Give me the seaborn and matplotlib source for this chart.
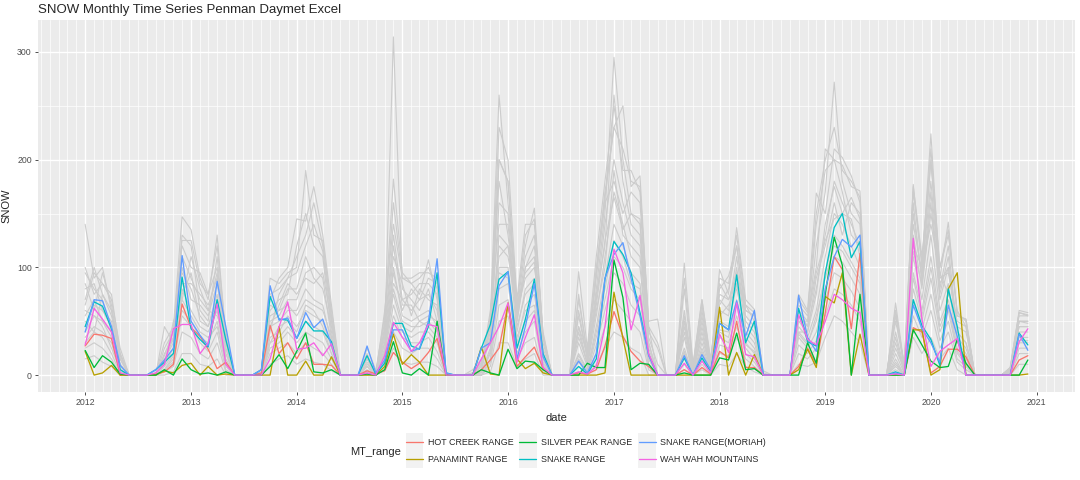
import pandas as pd
import numpy as np
import matplotlib
matplotlib.use('Agg')
import matplotlib.pyplot as plt
import matplotlib.dates as mdates
from matplotlib.ticker import MultipleLocator
from matplotlib.lines import Line2D
from matplotlib.patches import Rectangle
import seaborn as sns

# monthly dates, Jan 2012 .. Dec 2020
dates = pd.date_range('2012-01-01', periods=108, freq='MS')

# highlighted ranges (one row of 12 months per year)
hot_creek = [
    27, 38, 37, 34, 0, 0, 0, 0, 1, 3, 10, 66,
    44, 36, 24, 6, 12, 0, 0, 0, 2, 46, 20, 30,
    15, 30, 10, 10, 9, 0, 0, 0, 4, 1, 4, 21,
    12, 6, 11, 21, 34, 0, 0, 0, 0, 5, 14, 25,
    66, 8, 17, 26, 6, 0, 0, 0, 2, 1, 5, 27,
    59, 36, 22, 13, 8, 0, 0, 0, 5, 0, 7, 1,
    22, 16, 50, 7, 7, 0, 0, 0, 0, 8, 25, 10,
    58, 110, 98, 43, 113, 0, 0, 0, 1, 0, 44, 40,
    2, 8, 24, 24, 17, 0, 0, 0, 0, 0, 14, 18]
panamint = [
    22, 0, 2, 9, 0, 0, 0, 0, 0, 4, 2, 9,
    11, 0, 8, 0, 1, 0, 0, 0, 0, 0, 45, 0,
    0, 13, 0, 0, 17, 0, 0, 0, 0, 0, 8, 38,
    10, 19, 12, 0, 0, 0, 0, 0, 0, 26, 1, 0,
    67, 15, 6, 11, 2, 0, 0, 0, 0, 0, 0, 2,
    77, 34, 0, 0, 0, 0, 0, 0, 0, 0, 0, 0,
    63, 0, 21, 0, 19, 0, 0, 0, 0, 5, 24, 7,
    73, 67, 95, 0, 38, 0, 0, 0, 0, 0, 42, 42,
    0, 5, 80, 95, 0, 0, 0, 0, 0, 0, 0, 1]
silver_peak = [
    23, 7, 18, 12, 1, 0, 0, 0, 0, 5, 0, 15,
    5, 1, 2, 0, 3, 0, 0, 0, 0, 8, 19, 6,
    22, 39, 3, 2, 5, 0, 0, 0, 1, 0, 5, 31,
    2, 0, 6, 0, 50, 0, 0, 0, 0, 5, 2, 0,
    24, 6, 13, 12, 5, 0, 0, 0, 0, 11, 7, 7,
    107, 72, 5, 11, 10, 0, 0, 0, 2, 0, 0, 0,
    16, 14, 39, 5, 6, 0, 0, 0, 0, 0, 30, 11,
    75, 128, 102, 0, 75, 0, 0, 0, 0, 0, 42, 28,
    13, 7, 8, 33, 11, 0, 0, 0, 0, 0, 0, 14]
snake = [
    45, 68, 64, 43, 5, 0, 0, 0, 5, 12, 20, 91,
    43, 33, 26, 70, 33, 0, 0, 0, 5, 73, 52, 51,
    34, 50, 41, 41, 31, 0, 0, 0, 18, 1, 11, 48,
    48, 27, 24, 45, 95, 2, 0, 0, 0, 25, 47, 89,
    96, 25, 52, 89, 20, 0, 0, 0, 8, 1, 15, 89,
    124, 112, 95, 58, 19, 0, 0, 0, 16, 0, 16, 3,
    48, 42, 93, 30, 50, 0, 0, 0, 0, 62, 31, 27,
    95, 137, 150, 109, 124, 0, 0, 0, 3, 0, 70, 46,
    33, 9, 80, 45, 0, 0, 0, 0, 0, 0, 39, 28]
snake_moriah = [
    40, 70, 69, 45, 9, 0, 0, 0, 5, 14, 25, 111,
    50, 37, 27, 87, 45, 0, 0, 0, 5, 83, 51, 53,
    34, 58, 44, 52, 28, 0, 0, 0, 27, 2, 14, 42,
    42, 22, 25, 50, 108, 2, 0, 0, 0, 25, 30, 83,
    96, 15, 45, 85, 17, 0, 0, 0, 13, 2, 20, 90,
    112, 123, 90, 55, 18, 0, 0, 0, 18, 0, 19, 5,
    48, 42, 69, 36, 60, 0, 0, 0, 0, 74, 35, 22,
    80, 110, 126, 119, 130, 0, 0, 0, 2, 0, 65, 43,
    30, 12, 65, 36, 0, 0, 0, 0, 0, 0, 38, 23]
wah_wah = [
    28, 62, 52, 40, 2, 0, 0, 0, 2, 10, 43, 47,
    47, 20, 30, 66, 10, 0, 0, 0, 0, 15, 45, 68,
    24, 25, 30, 18, 29, 0, 0, 0, 2, 0, 18, 49,
    35, 22, 30, 47, 45, 0, 0, 0, 0, 15, 30, 45,
    67, 12, 35, 56, 7, 0, 0, 0, 3, 1, 8, 45,
    117, 95, 42, 74, 20, 0, 0, 0, 11, 0, 13, 2,
    38, 21, 67, 19, 17, 0, 0, 0, 0, 56, 33, 28,
    50, 75, 70, 62, 58, 0, 0, 0, 1, 0, 127, 52,
    8, 22, 28, 34, 0, 0, 0, 0, 0, 0, 31, 43]

ranges = ['HOT CREEK RANGE', 'PANAMINT RANGE', 'SILVER PEAK RANGE',
          'SNAKE RANGE', 'SNAKE RANGE(MORIAH)', 'WAH WAH MOUNTAINS']
colors = ['#F8766D', '#B79F00', '#00BA38', '#00BFC4', '#619CFF', '#F564E3']
highlight = [hot_creek, panamint, silver_peak, snake, snake_moriah, wah_wah]

# all the other sites, drawn in grey
other_sites = [
    [95, 80, 70, 40, 5, 0, 0, 0, 0, 20, 35, 130,
     120, 60, 50, 110, 25, 0, 0, 0, 3, 60, 70, 75,
     120, 150, 120, 110, 40, 0, 0, 0, 10, 2, 40, 314,
     80, 70, 60, 80, 50, 0, 0, 0, 0, 10, 40, 200,
     180, 50, 100, 120, 20, 0, 0, 0, 60, 15, 80, 150,
     295, 200, 150, 140, 30, 0, 0, 0, 60, 5, 50, 8,
     70, 60, 110, 50, 40, 0, 0, 0, 0, 60, 45, 120,
     170, 272, 180, 150, 140, 0, 0, 0, 40, 5, 150, 90,
     200, 80, 120, 40, 30, 0, 0, 0, 0, 5, 50, 50],
    [140, 90, 100, 60, 15, 0, 0, 0, 2, 30, 45, 147,
     135, 90, 70, 130, 35, 0, 0, 0, 5, 90, 85, 95,
     100, 190, 130, 125, 55, 0, 0, 0, 15, 3, 55, 182,
     95, 85, 75, 107, 70, 0, 0, 0, 2, 12, 55, 260,
     160, 60, 120, 155, 35, 0, 0, 0, 45, 20, 95, 170,
     230, 250, 175, 185, 45, 0, 0, 0, 50, 8, 70, 12,
     98, 75, 137, 70, 61, 0, 0, 0, 0, 75, 60, 169,
     150, 210, 202, 185, 160, 0, 0, 0, 67, 8, 177, 100,
     224, 90, 142, 55, 52, 0, 0, 0, 0, 7, 60, 58],
    [100, 75, 85, 75, 20, 0, 0, 0, 0, 25, 40, 120,
     100, 95, 75, 100, 40, 0, 0, 0, 2, 70, 90, 100,
     145, 143, 175, 130, 65, 0, 0, 0, 20, 0, 60, 140,
     90, 90, 95, 95, 90, 0, 0, 0, 0, 8, 45, 230,
     200, 70, 140, 140, 40, 0, 0, 0, 96, 25, 110, 180,
     250, 190, 190, 170, 50, 52, 0, 0, 104, 10, 70, 15,
     80, 92, 120, 60, 55, 4, 0, 0, 0, 65, 55, 100,
     210, 200, 195, 175, 171, 0, 0, 0, 55, 10, 175, 110,
     198, 100, 130, 60, 45, 0, 0, 0, 0, 5, 55, 55],
    [80, 85, 60, 50, 10, 0, 0, 0, 0, 15, 30, 110,
     90, 70, 60, 95, 20, 0, 0, 0, 0, 55, 60, 80,
     80, 110, 90, 80, 45, 0, 0, 0, 8, 0, 45, 130,
     70, 60, 70, 75, 60, 0, 0, 0, 0, 5, 35, 160,
     150, 50, 100, 110, 25, 0, 0, 0, 40, 10, 70, 140,
     200, 160, 130, 120, 30, 0, 0, 0, 50, 3, 40, 5,
     60, 55, 100, 45, 35, 0, 0, 0, 0, 55, 45, 80,
     130, 180, 160, 140, 120, 0, 0, 0, 30, 3, 130, 80,
     160, 70, 100, 40, 30, 0, 0, 0, 0, 3, 45, 45],
    [60, 55, 50, 35, 5, 0, 0, 0, 0, 10, 25, 95,
     80, 55, 45, 75, 15, 0, 0, 0, 0, 45, 50, 60,
     60, 80, 70, 65, 30, 0, 0, 0, 5, 0, 30, 100,
     55, 50, 55, 60, 45, 0, 0, 0, 0, 3, 25, 130,
     120, 40, 80, 90, 15, 0, 0, 0, 30, 8, 55, 110,
     170, 140, 110, 100, 20, 0, 0, 0, 35, 0, 30, 3,
     50, 45, 85, 35, 25, 0, 0, 0, 0, 45, 35, 60,
     110, 150, 140, 120, 100, 0, 0, 0, 20, 2, 110, 70,
     130, 60, 85, 30, 20, 0, 0, 0, 0, 2, 40, 40],
    [45, 65, 60, 45, 8, 0, 0, 0, 0, 8, 20, 80,
     60, 45, 40, 60, 10, 0, 0, 0, 0, 35, 40, 55,
     45, 60, 55, 50, 25, 0, 0, 0, 3, 0, 25, 80,
     50, 45, 45, 50, 40, 0, 0, 0, 0, 2, 20, 100,
     100, 30, 65, 75, 10, 0, 0, 0, 20, 5, 45, 90,
     140, 120, 95, 85, 15, 0, 0, 0, 25, 0, 25, 2,
     40, 35, 70, 30, 20, 0, 0, 0, 0, 40, 30, 50,
     95, 130, 120, 105, 90, 0, 0, 0, 15, 0, 95, 60,
     110, 50, 70, 25, 15, 0, 0, 0, 0, 0, 35, 35],
    [35, 45, 40, 30, 3, 0, 0, 0, 0, 5, 15, 60,
     50, 35, 30, 50, 8, 0, 0, 0, 0, 30, 35, 45,
     35, 50, 45, 40, 20, 0, 0, 0, 2, 0, 20, 65,
     40, 35, 40, 40, 30, 0, 0, 0, 0, 0, 15, 80,
     85, 25, 50, 60, 8, 0, 0, 0, 15, 3, 35, 70,
     110, 100, 80, 70, 10, 0, 0, 0, 20, 0, 20, 0,
     35, 30, 55, 25, 15, 0, 0, 0, 0, 35, 25, 40,
     80, 110, 105, 90, 75, 0, 0, 0, 10, 0, 80, 50,
     90, 40, 60, 20, 10, 0, 0, 0, 0, 0, 30, 30],
    [25, 30, 25, 15, 0, 0, 0, 0, 0, 3, 8, 40,
     35, 20, 15, 30, 3, 0, 0, 0, 0, 20, 25, 30,
     20, 30, 25, 20, 10, 0, 0, 0, 0, 0, 12, 40,
     25, 20, 25, 25, 15, 0, 0, 0, 0, 0, 8, 50,
     55, 15, 30, 35, 3, 0, 0, 0, 8, 0, 20, 45,
     70, 60, 50, 40, 5, 0, 0, 0, 10, 0, 10, 0,
     20, 18, 35, 15, 8, 0, 0, 0, 0, 20, 15, 25,
     55, 80, 75, 65, 50, 0, 0, 0, 5, 0, 55, 35,
     60, 25, 40, 12, 5, 0, 0, 0, 0, 0, 20, 20],
    [15, 18, 12, 8, 0, 0, 0, 0, 0, 0, 3, 20,
     20, 10, 8, 15, 0, 0, 0, 0, 0, 10, 15, 18,
     10, 15, 12, 10, 4, 0, 0, 0, 0, 0, 5, 25,
     12, 10, 12, 12, 8, 0, 0, 0, 0, 0, 3, 30,
     30, 8, 15, 20, 0, 0, 0, 0, 3, 0, 10, 25,
     40, 35, 25, 20, 0, 0, 0, 0, 5, 0, 5, 0,
     10, 8, 20, 8, 3, 0, 0, 0, 0, 10, 8, 12,
     35, 55, 50, 40, 30, 0, 0, 0, 2, 0, 35, 20,
     35, 15, 25, 5, 0, 0, 0, 0, 0, 0, 10, 10],
    [70, 100, 75, 60, 20, 0, 0, 0, 0, 10, 50, 70,
     110, 80, 60, 55, 30, 0, 0, 0, 0, 40, 75, 90,
     95, 120, 140, 115, 50, 0, 0, 0, 25, 5, 20, 95,
     60, 80, 70, 90, 85, 0, 0, 0, 5, 15, 30, 120,
     110, 60, 90, 100, 30, 0, 0, 0, 70, 20, 90, 160,
     180, 150, 170, 160, 40, 25, 0, 0, 80, 5, 60, 10,
     85, 70, 90, 65, 50, 0, 0, 0, 0, 50, 40, 90,
     120, 160, 130, 160, 150, 0, 0, 0, 50, 10, 120, 100,
     140, 95, 75, 55, 52, 0, 0, 0, 0, 7, 58, 55],
    [50, 40, 75, 55, 15, 0, 0, 0, 0, 15, 20, 100,
     70, 65, 55, 85, 25, 0, 0, 0, 0, 50, 55, 70,
     70, 95, 100, 90, 35, 0, 0, 0, 12, 0, 35, 110,
     85, 55, 80, 70, 65, 0, 0, 0, 0, 5, 50, 180,
     130, 55, 110, 130, 20, 0, 0, 0, 45, 10, 75, 120,
     260, 180, 140, 130, 25, 0, 0, 0, 40, 0, 45, 5,
     65, 80, 120, 55, 45, 0, 0, 0, 0, 50, 50, 140,
     190, 200, 170, 130, 120, 0, 0, 0, 35, 3, 140, 95,
     180, 85, 100, 45, 40, 0, 0, 0, 0, 3, 50, 50],
    [55, 70, 50, 40, 10, 0, 0, 0, 0, 45, 30, 75,
     95, 50, 45, 70, 20, 0, 0, 0, 0, 65, 60, 65,
     55, 70, 65, 60, 35, 0, 0, 0, 8, 0, 40, 120,
     65, 65, 50, 55, 50, 0, 0, 0, 0, 8, 60, 140,
     140, 45, 75, 85, 15, 0, 0, 0, 55, 15, 60, 100,
     190, 130, 120, 110, 20, 0, 0, 0, 55, 3, 35, 5,
     55, 65, 80, 40, 30, 0, 0, 0, 0, 40, 40, 75,
     140, 175, 150, 145, 110, 0, 0, 0, 60, 5, 160, 85,
     170, 75, 110, 35, 25, 0, 0, 0, 0, 5, 45, 45],
    [65, 95, 85, 70, 25, 0, 0, 0, 0, 12, 35, 85,
     85, 75, 65, 90, 30, 0, 0, 0, 0, 45, 65, 85,
     75, 90, 85, 95, 50, 0, 0, 0, 15, 0, 30, 85,
     70, 75, 85, 85, 75, 0, 0, 0, 0, 10, 35, 110,
     120, 65, 95, 105, 35, 0, 0, 0, 35, 12, 65, 125,
     165, 135, 150, 145, 35, 10, 0, 0, 45, 3, 55, 8,
     75, 70, 95, 60, 55, 0, 0, 0, 0, 60, 50, 95,
     125, 145, 150, 165, 145, 0, 0, 0, 25, 5, 115, 85,
     150, 90, 95, 50, 45, 0, 0, 0, 0, 4, 50, 48],
    [40, 55, 45, 25, 5, 0, 0, 0, 0, 5, 18, 70,
     55, 40, 35, 45, 12, 0, 0, 0, 0, 30, 45, 50,
     40, 65, 60, 45, 20, 0, 0, 0, 4, 0, 22, 75,
     45, 40, 50, 45, 35, 0, 0, 0, 0, 3, 22, 95,
     90, 35, 60, 65, 12, 0, 0, 0, 18, 4, 40, 80,
     125, 110, 85, 80, 15, 0, 0, 0, 22, 0, 22, 2,
     42, 40, 65, 28, 22, 0, 0, 0, 0, 38, 28, 55,
     90, 120, 115, 100, 85, 0, 0, 0, 12, 0, 90, 55,
     100, 45, 65, 22, 12, 0, 0, 0, 0, 0, 32, 32],
    [85, 60, 95, 65, 18, 0, 0, 0, 0, 18, 40, 125,
     125, 85, 75, 120, 38, 0, 0, 0, 2, 75, 80, 90,
     110, 130, 160, 120, 60, 0, 0, 0, 18, 2, 50, 160,
     90, 85, 90, 100, 80, 0, 0, 0, 2, 10, 45, 200,
     180, 65, 130, 145, 38, 0, 0, 0, 75, 18, 100, 165,
     230, 210, 180, 175, 45, 30, 0, 0, 90, 8, 65, 12,
     90, 85, 130, 65, 58, 2, 0, 0, 0, 70, 58, 150,
     200, 230, 190, 180, 165, 0, 0, 0, 60, 8, 170, 105,
     210, 100, 135, 58, 50, 0, 0, 0, 0, 6, 58, 56],
    [30, 40, 35, 20, 2, 0, 0, 0, 0, 5, 12, 55,
     45, 30, 22, 40, 5, 0, 0, 0, 0, 25, 30, 40,
     30, 40, 35, 30, 15, 0, 0, 0, 2, 0, 15, 55,
     35, 30, 30, 35, 22, 0, 0, 0, 0, 0, 12, 65,
     70, 20, 40, 50, 5, 0, 0, 0, 12, 2, 28, 60,
     95, 85, 65, 55, 8, 0, 0, 0, 15, 0, 15, 0,
     28, 25, 45, 20, 12, 0, 0, 0, 0, 28, 20, 32,
     70, 95, 90, 78, 62, 0, 0, 0, 8, 0, 70, 42,
     75, 32, 50, 15, 8, 0, 0, 0, 0, 0, 25, 25],
]

# long tables for seaborn
grey_df = pd.concat([pd.DataFrame({'date': dates, 'SNOW': s, 'site': i})
                     for i, s in enumerate(other_sites)])
col_df = pd.concat([pd.DataFrame({'date': dates, 'SNOW': s, 'MT_range': r})
                    for r, s in zip(ranges, highlight)])

sns.set_style('darkgrid', {'axes.facecolor': '#EBEBEB', 'grid.color': 'white'})
plt.rcParams['font.family'] = ['Liberation Sans', 'DejaVu Sans']

fig = plt.figure(figsize=(10.8, 4.8), dpi=100)
ax = fig.add_axes([38 / 1080, 1 - 392 / 480, (1075 - 38) / 1080, (392 - 20) / 480])

sns.lineplot(data=grey_df, x='date', y='SNOW', units='site', estimator=None,
             color='#CCCCCC', linewidth=0.8, ax=ax, legend=False)
sns.lineplot(data=col_df, x='date', y='SNOW', hue='MT_range', hue_order=ranges,
             palette=dict(zip(ranges, colors)), linewidth=0.95, ax=ax, legend=False)

# ggplot-like expansion of 5 %
span = dates[-1] - dates[0]
ax.set_xlim(dates[0] - span * 0.05, dates[-1] + span * 0.05)
ymax = max(max(s) for s in other_sites + highlight)
ax.set_ylim(-0.05 * ymax, 1.05 * ymax)

ax.xaxis.set_major_locator(mdates.YearLocator())
ax.xaxis.set_major_formatter(mdates.DateFormatter('%Y'))
ax.xaxis.set_minor_locator(mdates.MonthLocator())
ax.yaxis.set_major_locator(MultipleLocator(100))
ax.yaxis.set_minor_locator(MultipleLocator(50))
ax.grid(which='major', color='white', linewidth=1.0)
ax.grid(which='minor', color='white', linewidth=0.5)
ax.tick_params(which='major', length=2.5, width=0.6, color='#333333',
               labelsize=6.3, labelcolor='#4D4D4D', pad=2, bottom=True, left=True)
ax.tick_params(which='minor', length=0)
for sp in ax.spines.values():
    sp.set_visible(False)

ax.set_xlabel('date', fontsize=8, labelpad=4)
ax.set_ylabel('SNOW', fontsize=8, labelpad=4)
fig.text(38 / 1080, 1 - 10 / 480, 'SNOW Monthly Time Series Penman Daymet Excel',
         fontsize=9.5, va='center', ha='left')

handles = [Line2D([], [], color=c, linewidth=0.95) for c in colors]
leg = fig.legend(handles, ranges, ncol=3, loc='center',
                 bbox_to_anchor=(586 / 1080, 1 - 451 / 480),
                 frameon=False, fontsize=6.4, handlelength=1.9, handletextpad=0.55,
                 columnspacing=0.7, labelspacing=0.9)
fig.text(350 / 1080, 1 - 452 / 480, 'MT_range', fontsize=8, va='center', ha='left')

# grey key boxes behind the legend lines, as in ggplot
fig.canvas.draw()
renderer = fig.canvas.get_renderer()
for h in leg.legend_handles:
    bb = h.get_window_extent(renderer)
    cx, cy = (bb.x0 + bb.x1) / 2, (bb.y0 + bb.y1) / 2
    fig.patches.append(Rectangle((cx - 8.7, cy - 9), 17.4, 18, transform=None,
                                 facecolor='#F2F2F2', edgecolor='none', zorder=0))

fig.savefig('out.png', dpi=100)
